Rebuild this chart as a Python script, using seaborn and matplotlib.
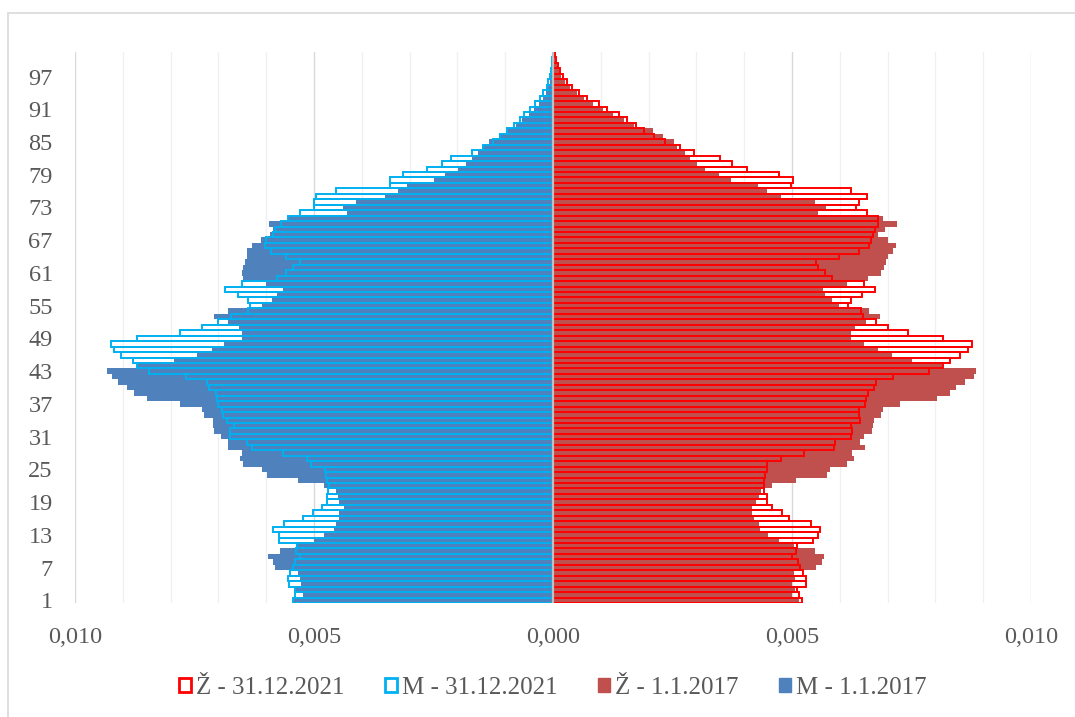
import numpy as np
import pandas as pd
import matplotlib
matplotlib.use("Agg")
import matplotlib.pyplot as plt
import seaborn as sns
from matplotlib.patches import Patch, Rectangle
from matplotlib.ticker import MultipleLocator, FuncFormatter

#data
ages = list(range(1, 102))

m_2021 = [0.00544, 0.0054, 0.0054, 0.00553, 0.00555, 0.0055, 0.00544, 0.0054, 0.0053, 0.00537,
          0.00535, 0.00574, 0.00574, 0.00585, 0.00563, 0.00523, 0.00503, 0.00484, 0.00473, 0.00473,
          0.00471, 0.00469, 0.00473, 0.00475, 0.00476, 0.00507, 0.00514, 0.00564, 0.0063, 0.00641,
          0.00675, 0.00675, 0.00667, 0.00682, 0.0069, 0.00692, 0.00701, 0.00703, 0.00705, 0.0072,
          0.00723, 0.00768, 0.00845, 0.00871, 0.00879, 0.00903, 0.00918, 0.00925, 0.0087, 0.0078,
          0.00735, 0.00701, 0.00673, 0.00638, 0.00634, 0.00638, 0.0066, 0.00686, 0.0065, 0.00578,
          0.00559, 0.00544, 0.0053, 0.00559, 0.0059, 0.00602, 0.006, 0.00585, 0.00581, 0.0057,
          0.00555, 0.00529, 0.00501, 0.00501, 0.00496, 0.00454, 0.00342, 0.00342, 0.00314, 0.00264,
          0.00232, 0.00214, 0.0017, 0.00146, 0.00126, 0.0011, 0.00097, 0.00081, 0.0007, 0.0006,
          0.00049, 0.00038, 0.00028, 0.00021, 0.00013, 0.0001, 0.00006, 0.00004, 0.00003, 0.00002,
          0.00001]

m_2017 = [0.00543, 0.00523, 0.0054, 0.00527, 0.0053, 0.00533, 0.00581, 0.00585, 0.00596, 0.00572,
          0.00537, 0.005, 0.0048, 0.00458, 0.00454, 0.00447, 0.00447, 0.00437, 0.00448, 0.0045,
          0.00453, 0.0048, 0.00533, 0.00598, 0.00608, 0.00649, 0.00655, 0.0065, 0.00679, 0.00679,
          0.00694, 0.00709, 0.00712, 0.00712, 0.00731, 0.00735, 0.0078, 0.0085, 0.00877, 0.00892,
          0.0091, 0.00922, 0.00933, 0.0087, 0.00792, 0.00744, 0.00714, 0.00688, 0.0065, 0.0065,
          0.00656, 0.0068, 0.00709, 0.00679, 0.00608, 0.00587, 0.00578, 0.00565, 0.006, 0.00649,
          0.0065, 0.00649, 0.00645, 0.00641, 0.00641, 0.0063, 0.00611, 0.00593, 0.00585, 0.00595,
          0.00555, 0.00432, 0.0044, 0.00413, 0.00351, 0.00324, 0.00305, 0.0025, 0.00226, 0.00199,
          0.00182, 0.00169, 0.00157, 0.00148, 0.00133, 0.00112, 0.00096, 0.00077, 0.00064, 0.00051,
          0.0004, 0.00029, 0.00021, 0.00014, 0.0001, 0.00007, 0.00005, 0.00003, 0.00002, 0.00001,
          0.00001]

z_2021 = [0.0052, 0.00514, 0.0051, 0.0053, 0.0053, 0.00524, 0.00516, 0.00512, 0.00501, 0.00509,
          0.0051, 0.00544, 0.00555, 0.00559, 0.00539, 0.00494, 0.00479, 0.00459, 0.00448, 0.00448,
          0.00441, 0.00441, 0.00441, 0.00443, 0.00448, 0.00448, 0.00476, 0.00526, 0.00587, 0.00591,
          0.00623, 0.00626, 0.00623, 0.00643, 0.00641, 0.00641, 0.00653, 0.00655, 0.00659, 0.00671,
          0.00676, 0.00712, 0.00787, 0.00816, 0.0083, 0.00851, 0.00869, 0.00876, 0.00816, 0.00743,
          0.00701, 0.00676, 0.00648, 0.00644, 0.00618, 0.00623, 0.00646, 0.00673, 0.00651, 0.00584,
          0.00569, 0.00555, 0.00551, 0.00598, 0.00641, 0.00662, 0.00666, 0.00669, 0.00673, 0.0068,
          0.0068, 0.00657, 0.00634, 0.00641, 0.00657, 0.00623, 0.00498, 0.00503, 0.00473, 0.00406,
          0.00375, 0.00349, 0.00296, 0.00266, 0.00234, 0.00212, 0.00191, 0.00174, 0.00155, 0.00139,
          0.00114, 0.00096, 0.00071, 0.00055, 0.0004, 0.00029, 0.0002, 0.00014, 0.0001, 0.00007,
          0.00005]

z_2017 = [0.00515, 0.00501, 0.00507, 0.00501, 0.00507, 0.00505, 0.0055, 0.00562, 0.00567, 0.00548,
          0.00505, 0.00473, 0.0045, 0.00434, 0.0043, 0.00421, 0.00416, 0.00416, 0.00424, 0.0043,
          0.00436, 0.00459, 0.00509, 0.00574, 0.00579, 0.00616, 0.0063, 0.00626, 0.00653, 0.00643,
          0.00651, 0.00667, 0.00669, 0.00671, 0.00687, 0.00691, 0.00726, 0.00803, 0.0083, 0.00843,
          0.00862, 0.0088, 0.00884, 0.00816, 0.0075, 0.00709, 0.0068, 0.00651, 0.00623, 0.00623,
          0.00631, 0.00655, 0.00684, 0.00662, 0.00598, 0.00584, 0.00569, 0.00564, 0.00616, 0.00659,
          0.00686, 0.00693, 0.00696, 0.007, 0.00712, 0.00718, 0.007, 0.0068, 0.00694, 0.0072,
          0.00691, 0.00555, 0.00571, 0.00548, 0.00476, 0.00448, 0.00429, 0.00373, 0.00348, 0.00319,
          0.00301, 0.00287, 0.00276, 0.00259, 0.00254, 0.0023, 0.0021, 0.00169, 0.00148, 0.00126,
          0.00105, 0.00084, 0.00065, 0.0005, 0.00036, 0.00026, 0.00017, 0.00012, 0.00008, 0.00005,
          0.00004]

y_ticks = list(range(1, 102, 6))
x_ticks = [-0.010, -0.005, 0.0, 0.005, 0.010]

labels = ['Ž - 31.12.2021', 'M - 31.12.2021', 'Ž - 1.1.2017', 'M - 1.1.2017']
c_z21, c_m21, c_z17, c_m17 = '#FF0000', '#00B0F0', '#C0504D', '#4F81BD'

df = pd.DataFrame({'age': ages,
                   'm21': -np.array(m_2021), 'm17': -np.array(m_2017),
                   'z21': z_2021, 'z17': z_2017})

#setting
sns.set_style('white')
plt.rcParams['font.family'] = ['Liberation Serif', 'DejaVu Serif']
txt = '#595959'

fig = plt.figure(figsize=(10.75, 7.17), dpi=100)
ax = fig.add_axes([75/1075, 1 - 603/717, (1031 - 75)/1075, (603 - 52)/717])

#2017 = filled bars underneath
for col, c in [('m17', c_m17), ('z17', c_z17)]:
    sns.barplot(data=df, x=col, y='age', orient='h', native_scale=True, width=1.0,
                color=c, saturation=1, linewidth=0, errorbar=None, ax=ax, zorder=2)
#2021 = outline only on top
for col, c in [('m21', c_m21), ('z21', c_z21)]:
    sns.barplot(data=df, x=col, y='age', orient='h', native_scale=True, width=1.0,
                color=c, saturation=1, fill=False, linewidth=1.4, errorbar=None, ax=ax, zorder=3)

ax.axvline(0, color='#BFBFBF', lw=1.6, zorder=5)

ax.set_xlim(-0.010, 0.010)
ax.set_ylim(0.5, 101.5)
ax.set_xlabel('')
ax.set_ylabel('')

#grid
ax.xaxis.set_major_locator(MultipleLocator(0.005))
ax.xaxis.set_minor_locator(MultipleLocator(0.001))
ax.grid(False)
ax.grid(True, axis='x', which='major', color='#D9D9D9', lw=1.0, zorder=0)
ax.grid(True, axis='x', which='minor', color='#F0F0F0', lw=1.0, zorder=0)
ax.set_axisbelow(True)
for s in ax.spines.values():
    s.set_visible(False)

ax.set_xticks(x_ticks)
ax.xaxis.set_major_formatter(FuncFormatter(lambda v, p: f'{abs(v):.3f}'.replace('.', ',')))
ax.set_yticks(y_ticks)
ax.set_yticklabels([str(a) for a in y_ticks])
ax.tick_params(axis='x', which='both', length=0, pad=17, labelsize=17.5, labelcolor=txt)
ax.tick_params(axis='y', length=0, pad=16, labelsize=17.5, labelcolor=txt)

#legend
handles = [Patch(facecolor='white', edgecolor=c_z21, lw=2),
           Patch(facecolor='white', edgecolor=c_m21, lw=2),
           Patch(facecolor=c_z17, edgecolor=c_z17),
           Patch(facecolor=c_m17, edgecolor=c_m17)]
leg = fig.legend(handles, labels, loc='center', bbox_to_anchor=(553/1075, 1 - 688/717),
                 ncol=4, frameon=False, fontsize=18, handlelength=0.5, handleheight=0.5,
                 handletextpad=0.2, columnspacing=1.6, labelcolor=txt)

#chart border
fig.add_artist(Rectangle((8/1075, -0.1), 1.2, 1 - 13/717 + 0.1, transform=fig.transFigure,
                         fill=False, edgecolor='#D9D9D9', lw=1.2))

plt.savefig('out.png', dpi=100)
